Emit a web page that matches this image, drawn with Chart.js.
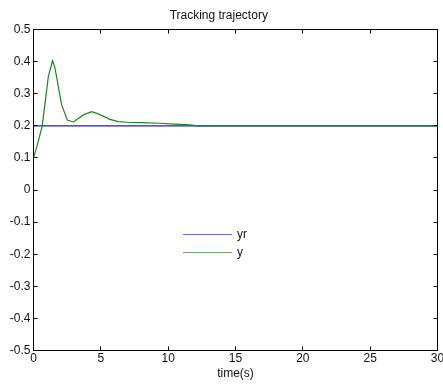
<!DOCTYPE html>
<html><head><meta charset="utf-8">
<script src="https://cdn.jsdelivr.net/npm/chart.js@4/dist/chart.umd.min.js"></script>
<style>html,body{margin:0;padding:0;background:#fff;overflow:hidden}</style>
</head><body>
<canvas id="c" width="443" height="385"></canvas>
<script>
const titleText = 'Tracking trajectory';
const xAxisLabel = 'time(s)';
const seriesNames = ['yr', 'y'];
const xTicks = [0, 5, 10, 15, 20, 25, 30];
const yTicks = [-0.5, -0.4, -0.3, -0.2, -0.1, 0, 0.1, 0.2, 0.3, 0.4, 0.5];
const yrTime = [0, 30];
const yrValues = [0.2, 0.2];
const yTime = [0, 0.25, 0.65, 1.1, 1.42, 1.6, 2.09, 2.51, 2.96, 3.7, 4.32, 4.81, 5.68, 6.3, 7.0, 7.9, 9.4, 10.5, 11.6, 12.2, 30];
const yValues = [0.1, 0.135, 0.2, 0.353, 0.403, 0.379, 0.265, 0.218, 0.212, 0.234, 0.244, 0.237, 0.22, 0.213, 0.211, 0.21, 0.208, 0.205, 0.203, 0.2, 0.2];

const FONT = 'Liberation Sans, Arial, Helvetica, sans-serif';
const lineColors = ['#1a1acc', '#138a13'];
const legendColors = ['#6868ff', '#68b068'];

const toXY = (xs, ys) => xs.map((x, i) => ({x: x, y: ys[i]}));

const framePlugin = {
  id: 'frame',
  afterDatasetsDraw(chart) {
    const {ctx, chartArea: a, scales: {x, y}} = chart;
    ctx.save();
    ctx.strokeStyle = '#000';
    ctx.lineWidth = 1;
    ctx.strokeRect(a.left, a.top, a.right - a.left, a.bottom - a.top);
    const L = 4;
    ctx.beginPath();
    x.ticks.forEach(t => {
      const px = Math.floor(x.getPixelForValue(t.value)) + 0.5;
      ctx.moveTo(px, a.bottom); ctx.lineTo(px, a.bottom - L);
      ctx.moveTo(px, a.top); ctx.lineTo(px, a.top + L);
    });
    y.ticks.forEach(t => {
      const py = Math.floor(y.getPixelForValue(t.value)) + 0.5;
      ctx.moveTo(a.left, py); ctx.lineTo(a.left + L, py);
      ctx.moveTo(a.right, py); ctx.lineTo(a.right - L, py);
    });
    ctx.stroke();
    // legend inside plot
    const lx0 = 183, lx1 = 232, ly = [234.5, 252.5];
    ctx.font = '12px ' + FONT;
    ctx.textBaseline = 'middle';
    ctx.textAlign = 'left';
    chart.data.datasets.forEach((ds, i) => {
      ctx.strokeStyle = legendColors[i];
      ctx.lineWidth = 1;
      ctx.beginPath();
      ctx.moveTo(lx0, ly[i]); ctx.lineTo(lx1, ly[i]);
      ctx.stroke();
      ctx.fillStyle = '#111';
      ctx.fillText(ds.label, 237, ly[i]);
    });
    ctx.restore();
  }
};

new Chart(document.getElementById('c'), {
  type: 'line',
  data: {
    datasets: [
      {label: seriesNames[0], data: toXY(yrTime, yrValues), borderColor: lineColors[0], borderWidth: 1.2, pointRadius: 0, tension: 0, order: 1},
      {label: seriesNames[1], data: toXY(yTime, yValues), borderColor: lineColors[1], borderWidth: 1.2, pointRadius: 0, tension: 0, order: 0}
    ]
  },
  options: {
    responsive: false,
    animation: false,
    devicePixelRatio: 1,
    layout: {padding: {left: 0, right: 5.5, top: 0, bottom: 0}},
    plugins: {
      legend: {display: false},
      tooltip: {enabled: false},
      title: {display: true, text: titleText, color: '#111', font: {family: FONT, size: 12, weight: 'normal'}, padding: {top: 8, bottom: 7.1}}
    },
    scales: {
      x: {
        type: 'linear', min: 0, max: 30,
        grid: {display: false, drawTicks: false},
        border: {display: false},
        ticks: {color: '#111', font: {family: FONT, size: 12}, padding: 1, maxRotation: 0, autoSkip: false},
        title: {display: true, text: xAxisLabel, color: '#111', font: {family: FONT, size: 12}, padding: {top: 0, bottom: 4}},
        afterBuildTicks(s) { s.ticks = xTicks.map(v => ({value: v})); },
        afterFit(s) { s.height = 34.5; s.paddingLeft = 0; s.paddingRight = 0; }
      },
      y: {
        type: 'linear', min: -0.5, max: 0.5,
        grid: {display: false, drawTicks: false},
        border: {display: false},
        ticks: {color: '#111', font: {family: FONT, size: 12}, padding: 3, autoSkip: false,
          callback: v => String(Math.round(v * 10) / 10)},
        afterBuildTicks(s) { s.ticks = yTicks.map(v => ({value: v})); },
        afterFit(s) { s.width = 33.5; s.paddingTop = 0; s.paddingBottom = 0; }
      }
    }
  },
  plugins: [framePlugin]
});
</script>
</body></html>
